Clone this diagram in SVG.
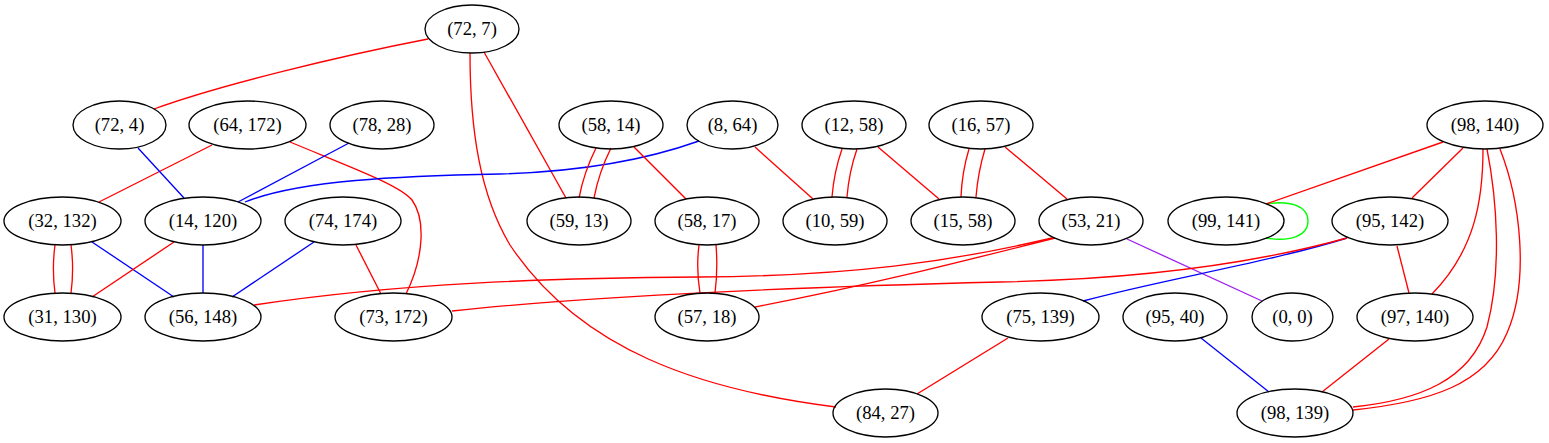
<svg xmlns="http://www.w3.org/2000/svg" width="1549" height="443" viewBox="0 0 1549 443">
<style>
.n ellipse{fill:none;stroke:#000;stroke-width:1.33}
.n text{font-family:"Liberation Serif","Times New Roman","DejaVu Serif",serif;font-size:18.67px;text-anchor:middle;fill:#000}
#edges path{fill:none;stroke-width:1.33}
.r{stroke:#ff0000}.b{stroke:#0000ff}.g{stroke:#00ff00}.p{stroke:#a020f0}
</style>
<rect width="1549" height="443" fill="#fff"/>
<g id="edges">
<path class="r" d="M428,39 C340,56 220,85 154,109"/>
<path class="r" d="M484,52 L566,198"/>
<path class="r" d="M470,53 C470,130 480,195 510,245 C580,350 700,390 836,407"/>
<path class="r" d="M212,145 L99,202"/>
<path class="r" d="M290,142 C350,167 400,185 412,200 C425,218 425,255 406,294"/>
<path class="b" d="M138,148 L184,198"/>
<path class="b" d="M349,143 L238,202"/>
<path class="b" d="M699,141 C640,162 570,172 500,174 C400,176 300,180 245,202"/>
<path class="r" d="M55,245 C53,260 53,278 55,293"/>
<path class="r" d="M71,245 C73,260 73,278 71,293"/>
<path class="b" d="M92,242 L174,297"/>
<path class="r" d="M174,242 L92,297"/>
<path class="b" d="M203,245 L203,293"/>
<path class="b" d="M314,242 L232,297"/>
<path class="r" d="M356,245 L381,294"/>
<path class="r" d="M596,148 Q584,172 579,198"/>
<path class="r" d="M611,148 Q599,172 594,198"/>
<path class="r" d="M634,147 L686,199"/>
<path class="r" d="M755,147 L813,199"/>
<path class="r" d="M842,149 Q834,172 832,197"/>
<path class="r" d="M857,149 Q849,172 847,197"/>
<path class="r" d="M878,147 L939,199"/>
<path class="r" d="M969,149 Q962,172 961,197"/>
<path class="r" d="M985,149 Q978,172 976,197"/>
<path class="r" d="M1005,147 L1067,199"/>
<path class="r" d="M699,245 Q696,269 700,293"/>
<path class="r" d="M716,245 Q718,269 715,293"/>
<path class="r" d="M1052,238 C950,262 850,276 700,277 C550,278 400,283 254,305"/>
<path class="r" d="M1055,238 C960,262 870,285 755,307"/>
<path class="p" d="M1127,239 L1262,301"/>
<path class="g" d="M1266,204 C1290,200 1308,206 1308,221 C1308,236 1290,242 1266,238"/>
<path class="r" d="M1443,142 L1266,204"/>
<path class="r" d="M1463,148 L1412,198"/>
<path class="r" d="M1483,149 C1483,200 1475,250 1432,294"/>
<path class="r" d="M1487,149 C1497,200 1502,270 1487,327 C1470,380 1420,400 1353,407"/>
<path class="r" d="M1500,149 C1520,200 1530,280 1507,333 C1485,385 1430,402 1353,410"/>
<path class="r" d="M1397,246 L1409,293"/>
<path class="b" d="M1347,238 C1270,262 1160,280 1083,301"/>
<path class="r" d="M1347,238 C1260,262 1150,279 1000,282 C800,287 600,295 452,311"/>
<path class="r" d="M1008,338 L917,394"/>
<path class="b" d="M1201,338 L1269,392"/>
<path class="r" d="M1389,339 L1322,392"/>
</g>
<g font-family="'Liberation Serif', 'Times New Roman', serif">
<g id="n72_7" class="n"><ellipse cx="472" cy="29" rx="47" ry="24"/><text x="472" y="34.5">(72, 7)</text></g>
<g id="n72_4" class="n"><ellipse cx="119.5" cy="125" rx="46.5" ry="24"/><text x="119.5" y="130.5">(72, 4)</text></g>
<g id="n64_172" class="n"><ellipse cx="247.5" cy="125" rx="58.5" ry="24"/><text x="247.5" y="130.5">(64, 172)</text></g>
<g id="n78_28" class="n"><ellipse cx="382" cy="125" rx="52" ry="24"/><text x="382" y="130.5">(78, 28)</text></g>
<g id="n58_14" class="n"><ellipse cx="611" cy="125" rx="52" ry="24"/><text x="611" y="130.5">(58, 14)</text></g>
<g id="n8_64" class="n"><ellipse cx="732.5" cy="125" rx="45.5" ry="24"/><text x="732.5" y="130.5">(8, 64)</text></g>
<g id="n12_58" class="n"><ellipse cx="854" cy="125" rx="52" ry="24"/><text x="854" y="130.5">(12, 58)</text></g>
<g id="n16_57" class="n"><ellipse cx="981" cy="125" rx="52" ry="24"/><text x="981" y="130.5">(16, 57)</text></g>
<g id="n98_140" class="n"><ellipse cx="1485" cy="125" rx="58" ry="24"/><text x="1485" y="130.5">(98, 140)</text></g>
<g id="n32_132" class="n"><ellipse cx="62.5" cy="221" rx="58.5" ry="24"/><text x="62.5" y="226.5">(32, 132)</text></g>
<g id="n14_120" class="n"><ellipse cx="203" cy="221" rx="58" ry="24"/><text x="203" y="226.5">(14, 120)</text></g>
<g id="n74_174" class="n"><ellipse cx="343" cy="221" rx="58" ry="24"/><text x="343" y="226.5">(74, 174)</text></g>
<g id="n59_13" class="n"><ellipse cx="579" cy="221" rx="52" ry="24"/><text x="579" y="226.5">(59, 13)</text></g>
<g id="n58_17" class="n"><ellipse cx="707" cy="221" rx="52" ry="24"/><text x="707" y="226.5">(58, 17)</text></g>
<g id="n10_59" class="n"><ellipse cx="835" cy="221" rx="52" ry="24"/><text x="835" y="226.5">(10, 59)</text></g>
<g id="n15_58" class="n"><ellipse cx="963" cy="221" rx="52" ry="24"/><text x="963" y="226.5">(15, 58)</text></g>
<g id="n53_21" class="n"><ellipse cx="1091" cy="221" rx="52" ry="24"/><text x="1091" y="226.5">(53, 21)</text></g>
<g id="n99_141" class="n"><ellipse cx="1226" cy="221" rx="58" ry="24"/><text x="1226" y="226.5">(99, 141)</text></g>
<g id="n95_142" class="n"><ellipse cx="1390" cy="221" rx="58" ry="24"/><text x="1390" y="226.5">(95, 142)</text></g>
<g id="n31_130" class="n"><ellipse cx="62.5" cy="317" rx="58.5" ry="24"/><text x="62.5" y="322.5">(31, 130)</text></g>
<g id="n56_148" class="n"><ellipse cx="203" cy="317" rx="58" ry="24"/><text x="203" y="322.5">(56, 148)</text></g>
<g id="n73_172" class="n"><ellipse cx="393.5" cy="317" rx="58.5" ry="24"/><text x="393.5" y="322.5">(73, 172)</text></g>
<g id="n57_18" class="n"><ellipse cx="707" cy="317" rx="52" ry="24"/><text x="707" y="322.5">(57, 18)</text></g>
<g id="n75_139" class="n"><ellipse cx="1040.5" cy="317" rx="58.5" ry="24"/><text x="1040.5" y="322.5">(75, 139)</text></g>
<g id="n95_40" class="n"><ellipse cx="1175" cy="317" rx="52" ry="24"/><text x="1175" y="322.5">(95, 40)</text></g>
<g id="n0_0" class="n"><ellipse cx="1292.5" cy="317" rx="40.5" ry="24"/><text x="1292.5" y="322.5">(0, 0)</text></g>
<g id="n97_140" class="n"><ellipse cx="1415" cy="317" rx="58" ry="24"/><text x="1415" y="322.5">(97, 140)</text></g>
<g id="n84_27" class="n"><ellipse cx="885.5" cy="413" rx="52.5" ry="24"/><text x="885.5" y="418.5">(84, 27)</text></g>
<g id="n98_139" class="n"><ellipse cx="1295" cy="413" rx="58" ry="24"/><text x="1295" y="418.5">(98, 139)</text></g>
</g>
</svg>
